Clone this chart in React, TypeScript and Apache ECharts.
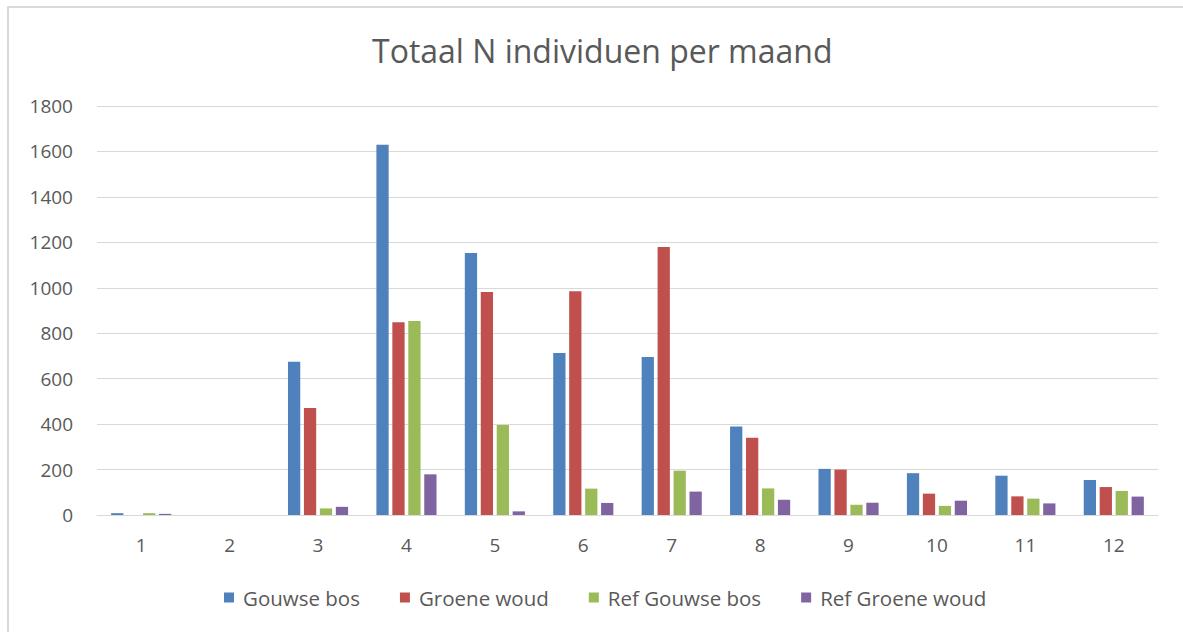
import React, { useEffect, useRef } from "react";
import * as echarts from "echarts";

// Month numbers on the category axis
const months = ["1", "2", "3", "4", "5", "6", "7", "8", "9", "10", "11", "12"];

// Individuals counted per month, per site
const gouwseBos = [8, 0, 674, 1630, 1153, 713, 695, 389, 203, 184, 173, 154];
const groeneWoud = [0, 0, 471, 848, 981, 985, 1180, 340, 200, 94, 82, 123];
const refGouwseBos = [8, 0, 29, 854, 396, 116, 195, 117, 45, 40, 72, 106];
const refGroeneWoud = [5, 0, 36, 179, 16, 53, 103, 67, 54, 63, 51, 81];

const seriesNames = ["Gouwse bos", "Groene woud", "Ref Gouwse bos", "Ref Groene woud"];
const seriesColors = ["#4F81BD", "#C0504D", "#9BBB59", "#8064A2"];

const FONT = "'Open Sans', 'Noto Sans', sans-serif";
const TEXT = "#595959";

export default function App() {
  const ref = useRef<HTMLDivElement>(null);

  useEffect(() => {
    if (!ref.current) return;
    const chart = echarts.init(ref.current, undefined, { renderer: "svg" });
    const values = [gouwseBos, groeneWoud, refGouwseBos, refGroeneWoud];
    chart.setOption({
      animation: false,
      backgroundColor: "#ffffff",
      title: {
        text: "Totaal N individuen per maand",
        left: 367,
        top: 29,
        textStyle: { fontFamily: FONT, fontSize: 32, fontWeight: "normal", color: TEXT },
      },
      legend: {
        data: seriesNames,
        left: 219,
        top: 582,
        itemWidth: 10,
        itemHeight: 10,
        itemGap: 40,
        icon: "rect",
        textStyle: { fontFamily: FONT, fontSize: 20.5, color: TEXT, padding: [0, 0, 0, 4] },
      },
      grid: { left: 97, right: 25, top: 106, bottom: 117, containLabel: false },
      xAxis: {
        type: "category",
        data: months,
        axisLine: { show: true, lineStyle: { color: "#d9d9d9", width: 1 } },
        axisTick: { show: false },
        axisLabel: { fontFamily: FONT, fontSize: 19, color: TEXT, margin: 20 },
      },
      yAxis: {
        type: "value",
        min: 0,
        max: 1800,
        interval: 200,
        axisLine: { show: false },
        axisTick: { show: false },
        splitLine: { lineStyle: { color: "#d9d9d9", width: 1 } },
        axisLabel: {
          fontFamily: FONT,
          fontSize: 19,
          color: TEXT,
          margin: 24,
          formatter: (v: number) => String(v),
        },
      },
      series: seriesNames.map((name, i) => ({
        name,
        type: "bar",
        data: values[i],
        barGap: "30%",
        barCategoryGap: "32%",
        itemStyle: { color: seriesColors[i] },
      })),
    });
    return () => chart.dispose();
  }, []);

  return (
    <div style={{ position: "fixed", left: 0, top: 0, width: 1183, height: 632, background: "#fff" }}>
      <div ref={ref} style={{ position: "absolute", left: 0, top: 0, width: 1183, height: 632 }} />
      <div
        style={{
          position: "absolute",
          left: 7,
          top: 6,
          width: 1200,
          height: 650,
          borderTop: "2px solid #d9d9d9",
          borderLeft: "2px solid #d9d9d9",
          pointerEvents: "none",
        }}
      />
    </div>
  );
}
